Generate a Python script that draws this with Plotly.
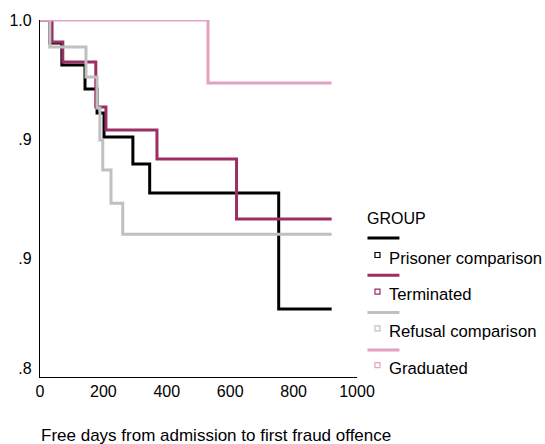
import plotly.graph_objects as go

# Kaplan-Meier survival steps (free days -> cumulative survival), one list pair per group
prisoner_days = [0, 31, 69, 142, 180, 202, 293, 346, 753, 920]
prisoner_surv = [1.0, 0.9903, 0.9811, 0.9710, 0.9609, 0.9508, 0.9395, 0.9273, 0.8786, 0.8786]

terminated_days = [0, 38, 72, 176, 208, 369, 620, 920]
terminated_surv = [1.0, 0.9908, 0.9824, 0.9634, 0.9538, 0.9416, 0.9164, 0.9164]

refusal_days = [0, 31, 145, 180, 189, 198, 224, 261, 920]
refusal_surv = [1.0, 0.9887, 0.9760, 0.9630, 0.9496, 0.9370, 0.9230, 0.9100, 0.9100]

graduated_days = [0, 530, 920]
graduated_surv = [1.0, 0.9735, 0.9735]

group_names = ["Prisoner comparison", "Terminated", "Refusal comparison", "Graduated"]
group_colors = ["#000000", "#9b2f63", "#c0c0c0", "#e2a2c2"]

y_tick_vals = [1.0, 0.95, 0.90, 0.8535]
y_tick_text = ["1.0", ".9", ".9", ".8"]
x_tick_vals = [0, 200, 400, 600, 800, 1000]
x_title = "Free days from admission to first fraud offence"

FONT = "Liberation Sans, Arial, sans-serif"

series = [
    (prisoner_days, prisoner_surv),
    (terminated_days, terminated_surv),
    (refusal_days, refusal_surv),
    (graduated_days, graduated_surv),
]

W, H = 545, 444
M_L, M_R, M_T, M_B = 40, 187.5, 20, 67
PLOT_W = W - M_L - M_R
PLOT_H = H - M_T - M_B

fig = go.Figure()
for (days, surv), name, color in zip(series, group_names, group_colors):
    fig.add_trace(go.Scatter(
        x=days, y=surv, mode="lines", name=name,
        line=dict(color=color, width=3, shape="hv"),
        showlegend=False, hoverinfo="skip",
    ))

# Pixel layout -> paper coords, for the hand-built legend and the x-axis caption
def px(x):
    return (x - M_L) / PLOT_W

def py(y):
    return (H - M_B - y) / PLOT_H

shapes = []
annotations = [
    dict(
        x=px(366), y=py(218), xref="paper", yref="paper", text="GROUP",
        showarrow=False, xanchor="left", yanchor="middle",
        font=dict(family=FONT, size=16, color="#000000"),
    ),
    dict(
        x=px(216), y=py(435), xref="paper", yref="paper", text=x_title,
        showarrow=False, xanchor="center", yanchor="middle",
        font=dict(family=FONT, size=17, color="#000000"),
    ),
]
for i, (name, color) in enumerate(zip(group_names, group_colors)):
    line_y = 238 + i * 37.3
    text_y = 258 + i * 36.7
    shapes.append(dict(
        type="line", xref="paper", yref="paper",
        x0=px(368), x1=px(400), y0=py(line_y), y1=py(line_y),
        line=dict(color=color, width=3),
    ))
    shapes.append(dict(
        type="rect", xref="paper", yref="paper",
        x0=px(375.5), x1=px(380.5), y0=py(text_y - 5.5), y1=py(text_y - 0.5),
        line=dict(color=color, width=1.2), fillcolor="white",
    ))
    annotations.append(dict(
        x=px(388), y=py(text_y), xref="paper", yref="paper", text=name,
        showarrow=False, xanchor="left", yanchor="middle",
        font=dict(family=FONT, size=16.7, color="#000000"),
    ))

fig.update_layout(
    width=W, height=H,
    margin=dict(l=M_L, r=M_R, t=M_T, b=M_B),
    paper_bgcolor="white", plot_bgcolor="white",
    font=dict(family=FONT, size=16, color="#000000"),
    shapes=shapes, annotations=annotations,
    xaxis=dict(
        range=[0, 1000], tickvals=x_tick_vals, showgrid=False, zeroline=False,
        showline=True, linecolor="#000000", linewidth=1.3, ticks="",
        ticklabelstandoff=0, automargin=False,
        tickfont=dict(family=FONT, size=16),
    ),
    yaxis=dict(
        range=[0.85, 1.0], tickvals=y_tick_vals, ticktext=y_tick_text,
        showgrid=False, zeroline=False, showline=True, linecolor="#000000",
        linewidth=1.3, ticks="", ticklabelstandoff=4, automargin=False,
        tickfont=dict(family=FONT, size=16),
    ),
)

fig.write_html("out.html")
